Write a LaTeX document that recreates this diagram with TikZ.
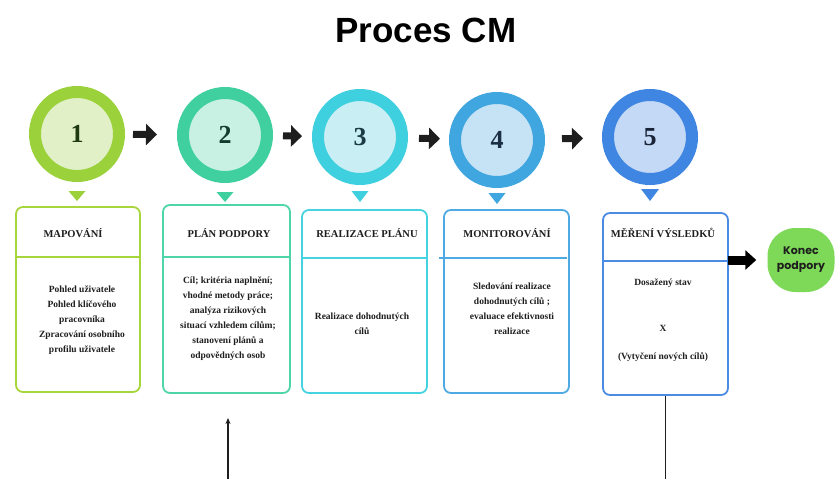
\documentclass[tikz,border=0pt]{standalone}
\usepackage{fontspec}
\setmainfont{Liberation Serif}
\newfontfamily\titlefont{Liberation Sans}
\newfontfamily\popfont{Poppins}
\usetikzlibrary{arrows.meta}
\definecolor{oA}{HTML}{9BD13A}\definecolor{iA}{HTML}{E2F0C8}\definecolor{bA}{HTML}{A6D63C}\definecolor{nA}{HTML}{1F3A10}
\definecolor{oB}{HTML}{40D0A0}\definecolor{iB}{HTML}{C9F1E3}\definecolor{bB}{HTML}{4FD5AA}\definecolor{nB}{HTML}{143C2E}
\definecolor{oC}{HTML}{3FD0DF}\definecolor{iC}{HTML}{C9EFF4}\definecolor{bC}{HTML}{45D3E2}\definecolor{nC}{HTML}{1C3A44}
\definecolor{oD}{HTML}{3FA6E0}\definecolor{iD}{HTML}{C6E2F5}\definecolor{bD}{HTML}{4FA9E2}\definecolor{nD}{HTML}{1A2E44}
\definecolor{oE}{HTML}{3F86E2}\definecolor{iE}{HTML}{C4D9F5}\definecolor{bE}{HTML}{4A8BE3}\definecolor{nE}{HTML}{1A2438}
\definecolor{konecgreen}{HTML}{7DD957}
\definecolor{ink}{HTML}{1E1E1E}
\begin{document}
\begin{tikzpicture}[x=1pt,y=-1pt,
  numcirc/.style={circle, minimum size=84pt, line width=12pt, inner sep=0pt,
    font=\fontsize{26}{26}\selectfont\bfseries},
  stagebox/.style={draw, rounded corners=7pt, line width=1.8pt, inner sep=0pt, fill=white},
  boxtitle/.style={anchor=base, font=\fontsize{10.5}{12}\selectfont\bfseries, text=ink},
  boxbody/.style={align=center, font=\fontsize{9.5}{15}\selectfont\bfseries, text=ink},
  divider/.style={line width=1.6pt},
  blockarrow/.style={line width=7pt, draw=ink, -{Triangle[length=11pt,width=21pt]}},
  bigarrow/.style={line width=9pt, draw=black, -{Triangle[length=11pt,width=19pt]}},
  thinline/.style={line width=1.2pt, draw=ink}
]
\useasboundingbox (0,0) rectangle (836,479);
\fill[white] (0,0) rectangle (836,479);

% title
\node[anchor=base, font=\titlefont\bfseries\fontsize{35}{40}\selectfont] (title) at (426,42) {Proces CM};

% circles
\node[numcirc, draw=oA, fill=iA, text=nA] (c1) at (77,134) {1};
\node[numcirc, draw=oB, fill=iB, text=nB] (c2) at (225,135) {2};
\node[numcirc, draw=oC, fill=iC, text=nC] (c3) at (360,137) {3};
\node[numcirc, draw=oD, fill=iD, text=nD] (c4) at (497,140) {4};
\node[numcirc, draw=oE, fill=iE, text=nE] (c5) at (650,137) {5};

% arrows between circles
\draw[blockarrow, shorten <=8pt, shorten >=20pt] (c1) -- (c2);
\draw[blockarrow, shorten <=10pt, shorten >=10pt] (c2) -- (c3);
\draw[blockarrow, shorten <=11pt, shorten >=9pt] (c3) -- (c4);
\draw[blockarrow, shorten <=17pt, shorten >=19pt] (c4) -- (c5);

% pointers
\fill[oA] ([yshift=-9pt]c1.south) ++(-8.5,0) -- ++(17,0) -- ++(-8.5,10) -- cycle;
\fill[oB] ([yshift=-9pt]c2.south) ++(-8.5,0) -- ++(17,0) -- ++(-8.5,10) -- cycle;
\fill[oC] ([yshift=-6pt]c3.south) ++(-8.5,0) -- ++(17,0) -- ++(-8.5,11) -- cycle;
\fill[oD] ([yshift=-5pt]c4.south) ++(-8.5,0) -- ++(17,0) -- ++(-8.5,11) -- cycle;
\fill[oE] ([yshift=-4pt]c5.south) ++(-9,0) -- ++(18,0) -- ++(-9,12) -- cycle;

% boxes
\node[stagebox, draw=bA, minimum width=124pt, minimum height=185pt] (b1) at (78,299.5) {};
\node[stagebox, draw=bB, minimum width=127pt, minimum height=188pt] (b2) at (226.5,299) {};
\node[stagebox, draw=bC, minimum width=125pt, minimum height=183pt] (b3) at (364.5,301.5) {};
\node[stagebox, draw=bD, minimum width=125pt, minimum height=183pt] (b4) at (506.5,301.5) {};
\node[stagebox, draw=bE, minimum width=125pt, minimum height=182pt] (b5) at (665.5,304) {};

% dividers
\draw[divider, draw=bA] (b1.west |- 0,257) -- (b1.east |- 0,257);
\draw[divider, draw=bB] (b2.west |- 0,257) -- (b2.east |- 0,257);
\draw[divider, draw=bC] (b3.west |- 0,258) -- (b3.east |- 0,258);
\draw[divider, draw=bD] ([xshift=-4pt]b4.west |- 0,258) -- ([xshift=-3pt]b4.east |- 0,258);
\draw[divider, draw=bE] (b5.west |- 0,261) -- (b5.east |- 0,261);

% titles
\node[boxtitle] (t1) at (73,237) {MAPOVÁNÍ};
\node[boxtitle] (t2) at (229,237) {PLÁN PODPORY};
\node[boxtitle] (t3) at (367,237) {REALIZACE PLÁNU};
\node[boxtitle] (t4) at (507,237) {MONITOROVÁNÍ};
\node[boxtitle] (t5) at (663,237) {MĚŘENÍ VÝSLEDKŮ};

% bodies
\node[boxbody] (d1) at (82,320) {Pohled uživatele\\Pohled klíčového\\pracovníka\\Zpracování osobního\\profilu uživatele};
\node[boxbody] (d2) at (228,319) {Cíl; kritéria naplnění;\\vhodné metody práce;\\analýza rizikových\\situací vzhledem cílům;\\stanovení plánů a\\odpovědných osob};
\node[boxbody] (d3) at (362,324) {Realizace dohodnutých\\cílů};
\node[boxbody] (d4) at (512,309) {Sledování realizace\\dohodnutých cílů ;\\evaluace efektivnosti\\realizace};
\node[boxbody] (d5a) at (663,283) {Dosažený stav};
\node[boxbody] (d5b) at (663,328) {X};
\node[boxbody] (d5c) at (663,357) {(Vytyčení nových cílů)};

% end node
\node[fill=konecgreen, rounded corners=28pt, minimum width=67pt, minimum height=64pt, inner sep=0pt,
  align=center, text=ink, font=\popfont\bfseries\fontsize{11}{15}\selectfont] (konec) at (801,260) {Konec\\podpory};
\draw[bigarrow, shorten <=-1pt, shorten >=11pt] (b5.east |- konec.west) -- (konec.west);

% bottom lines
\coordinate (ab) at (228,479);
\coordinate (at) at (228,418);
\draw[thinline, -{Stealth[length=6pt,width=5pt]}] (ab) -- (at);
\coordinate (lb) at (b5.south |- 0,479);
\draw[thinline] (b5.south) -- (lb);
\end{tikzpicture}
\end{document}
